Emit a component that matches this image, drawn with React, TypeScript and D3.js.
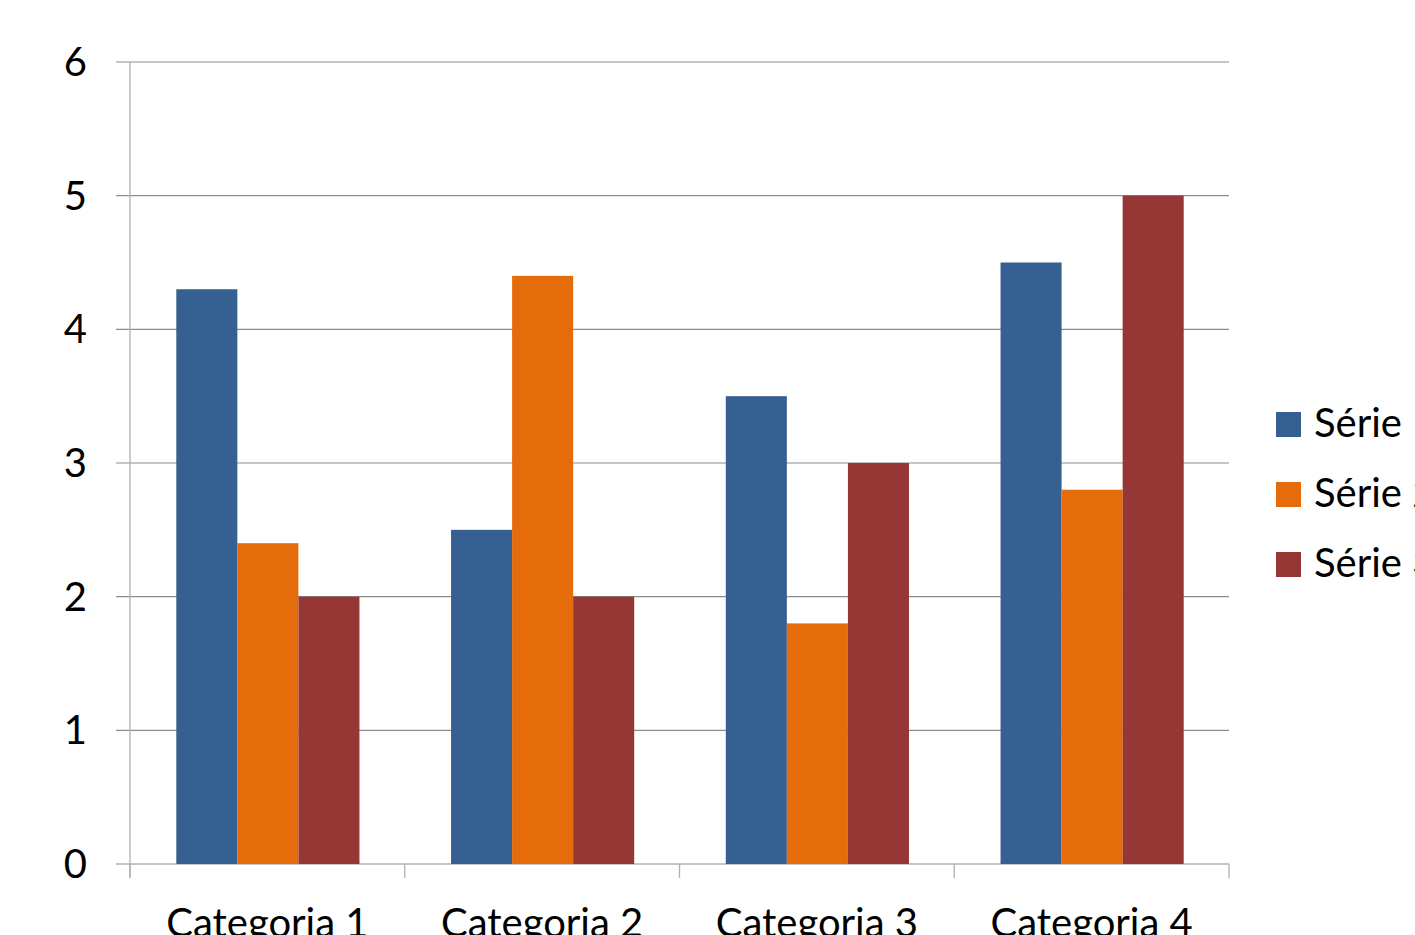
import * as d3 from 'd3'

const categories = ['Categoria 1', 'Categoria 2', 'Categoria 3', 'Categoria 4']
const seriesNames = ['Série 1', 'Série 2', 'Série 3']
const serie1 = [4.3, 2.5, 3.5, 4.5]
const serie2 = [2.4, 4.4, 1.8, 2.8]
const serie3 = [2, 2, 3, 5]
const yTicks = [0, 1, 2, 3, 4, 5, 6]
const colors = ['#376092', '#E46C0A', '#953735']

const W = 1415
const H = 935
const plot = { left: 130, right: 1229, top: 62, bottom: 864 }
const font = 'Lato, "Open Sans", sans-serif'

export default function App() {
  const values = [serie1, serie2, serie3]

  const x = d3.scaleBand<string>().domain(categories).range([plot.left, plot.right])
  const xs = d3.scaleBand<string>().domain(seriesNames).range([0, x.bandwidth()]).paddingOuter(0.75)
  const y = d3.scaleLinear().domain([0, 6]).range([plot.bottom, plot.top])

  const boundaries = [...categories.map(c => x(c)!), plot.right]

  return (
    <svg
      width={W}
      height={H}
      style={{ position: 'fixed', left: 0, top: 0, background: '#fff', fontFamily: font }}
    >
      {/* gridlines */}
      {yTicks.map(t => (
        <line key={t} x1={116} x2={plot.right} y1={y(t)} y2={y(t)} stroke="#8c8c8c" strokeWidth={1.2} />
      ))}
      {/* y labels */}
      {yTicks.map(t => (
        <text key={t} x={87} y={y(t) + 14} textAnchor="end" fontSize={40} fill="#000">
          {t}
        </text>
      ))}

      {/* bars */}
      {categories.map((c, ci) =>
        seriesNames.map((s, si) => (
          <rect
            key={c + s}
            x={x(c)! + xs(s)! + 0.5}
            y={y(values[si][ci])}
            width={xs.bandwidth()}
            height={y(0) - y(values[si][ci])}
            fill={colors[si]}
          />
        )),
      )}

      {/* y axis */}
      <line x1={plot.left} x2={plot.left} y1={plot.top} y2={878} stroke="#b0b0b0" strokeWidth={1.3} />
      {/* category ticks */}
      {boundaries.map((bx, i) => (
        <line key={i} x1={bx} x2={bx} y1={plot.bottom} y2={878} stroke="#b0b0b0" strokeWidth={1.3} />
      ))}
      {/* category labels */}
      {categories.map(c => (
        <text key={c} x={x(c)! + x.bandwidth() / 2} y={937} textAnchor="middle" fontSize={40} fill="#000">
          {c}
        </text>
      ))}

      {/* legend, cut at the right edge as in the original */}
      {seriesNames.map((s, i) => (
        <g key={s} transform={`translate(1276,${412 + i * 70})`}>
          <rect x={0} y={0} width={25} height={25} fill={colors[i]} />
          <text x={38} y={25} fontSize={40} fill="#000">
            {s}
          </text>
        </g>
      ))}
    </svg>
  )
}
